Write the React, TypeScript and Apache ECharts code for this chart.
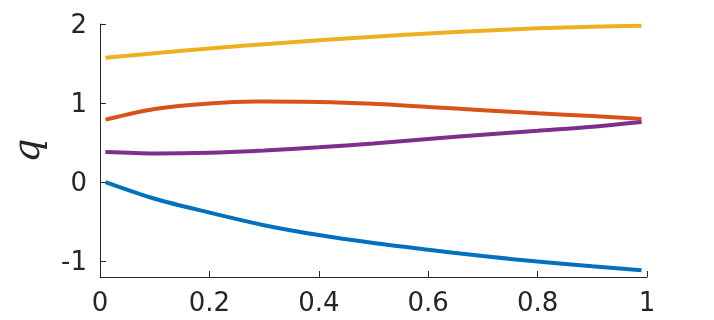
import React, { useEffect, useRef } from "react";
import * as echarts from "echarts";

const xs = [0.01, 0.1, 0.2, 0.3, 0.4, 0.5, 0.6, 0.7, 0.8, 0.9, 0.99];
const blue = [0.0, -0.21, -0.385, -0.545, -0.67, -0.77, -0.855, -0.935, -1.005, -1.065, -1.115];
const orange = [0.79, 0.925, 0.995, 1.02, 1.015, 0.99, 0.95, 0.91, 0.87, 0.835, 0.8];
const yellow = [1.573, 1.63, 1.69, 1.745, 1.795, 1.84, 1.88, 1.915, 1.945, 1.966, 1.978];
const purple = [0.38, 0.362, 0.372, 0.40, 0.44, 0.49, 0.545, 0.60, 0.65, 0.70, 0.76];
const yTicks = [-1, 0, 1, 2];
const seriesColors = ["#0072BD", "#D95319", "#EDB120", "#7E2F8E"];

const pair = (ys: number[]) => xs.map((x, i) => [x, ys[i]]);

export default function App() {
  const ref = useRef<HTMLDivElement>(null);
  useEffect(() => {
    const chart = echarts.init(ref.current!, undefined, { renderer: "svg" });
    const axisColor = "#262626";
    const labelFont = { fontFamily: "DejaVu Sans", fontSize: 26, color: axisColor };
    chart.setOption({
      animation: false,
      grid: {
        left: 100,
        right: 67,
        top: 24,
        bottom: 43,
        containLabel: false,
        outerBoundsMode: "none",
      },
      xAxis: {
        type: "value",
        min: 0,
        max: 1,
        interval: 0.2,
        axisLine: { onZero: false, lineStyle: { color: axisColor, width: 1 } },
        axisTick: { inside: true, length: 6, lineStyle: { color: axisColor } },
        axisLabel: { ...labelFont, margin: 12 },
        splitLine: { show: false },
      },
      yAxis: {
        type: "value",
        min: -1.2,
        max: 2,
        name: "q",
        nameLocation: "middle",
        nameRotate: 90,
        nameGap: 55,
        nameTextStyle: {
          fontFamily: "DejaVu Serif",
          fontStyle: "italic",
          fontSize: 38,
          color: axisColor,
        },
        axisLine: { show: true, onZero: false, lineStyle: { color: axisColor, width: 1 } },
        axisTick: { inside: true, length: 6, lineStyle: { color: axisColor }, customValues: yTicks },
        axisLabel: { ...labelFont, margin: 13, customValues: yTicks },
        splitLine: { show: false },
      },
      series: [blue, orange, yellow, purple].map((d, i) => ({
        type: "line",
        data: pair(d),
        smooth: 0.3,
        showSymbol: false,
        lineStyle: { color: seriesColors[i], width: 4 },
        itemStyle: { color: seriesColors[i] },
      })),
    });
    return () => chart.dispose();
  }, []);
  return (
    <div
      ref={ref}
      style={{ position: "fixed", left: 0, top: 0, width: 714, height: 320 }}
    />
  );
}
